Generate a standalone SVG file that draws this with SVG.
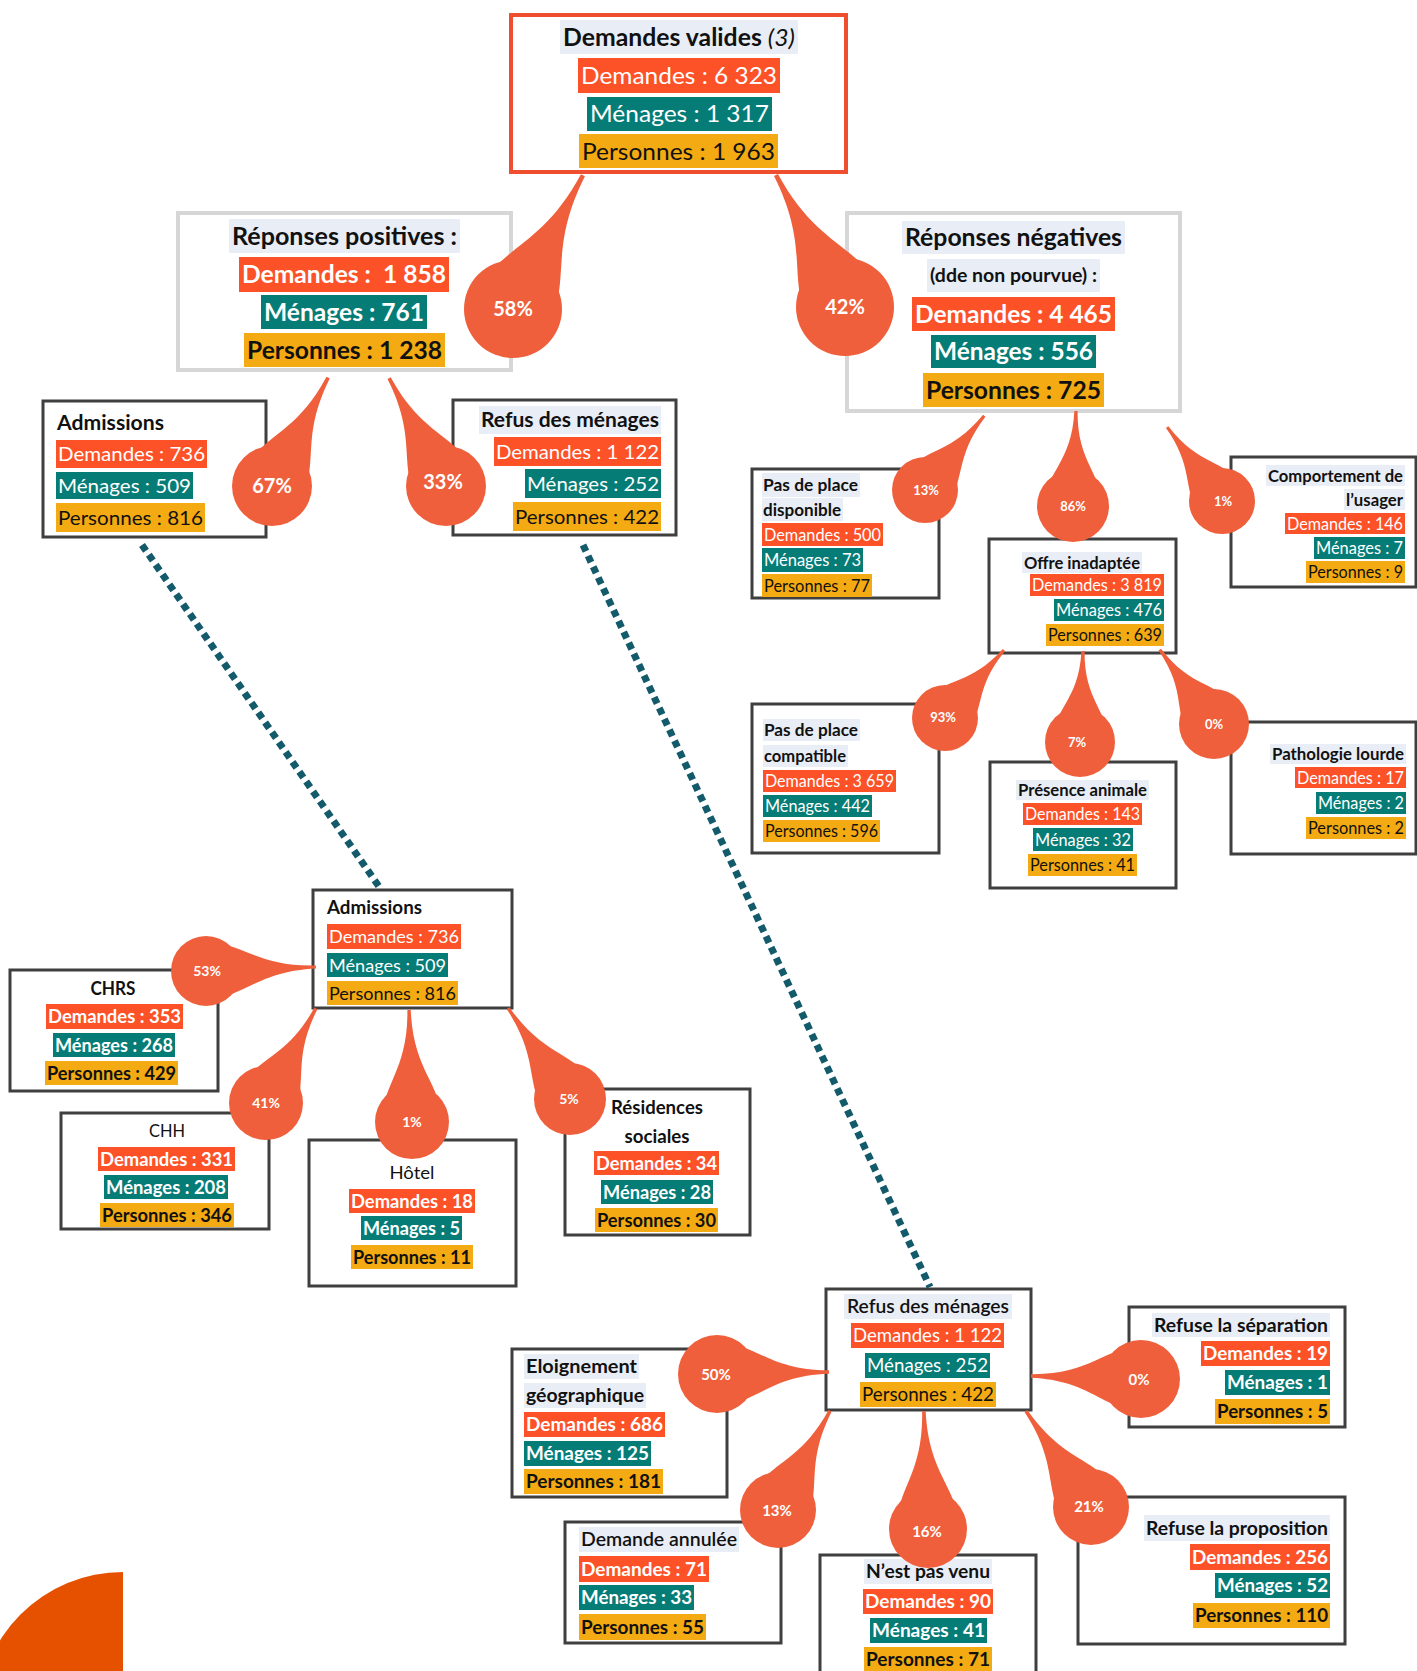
<svg xmlns="http://www.w3.org/2000/svg" xmlns:xlink="http://www.w3.org/1999/xlink" width="1417" height="1671" viewBox="0 0 1417 1671">
<style>
text{font-family:Lato,"Liberation Sans",sans-serif}
.box{fill:#fff;stroke:#3f3f3f;stroke-width:3}
.gbox{fill:#fff;stroke:#d6d6d6;stroke-width:4}
.rbox{fill:#fff;stroke:#f04f2f;stroke-width:4}
.tbg{fill:#e9edf5}
.rd{fill:#fd5128}
.tl{fill:#067c77}
.or{fill:#f4aa12}
.w{fill:#fff}
.k{fill:#111}
.b{font-weight:700}
.m{text-anchor:middle}
.e{text-anchor:end}
.drop{fill:#ef5f3b}
.pct{fill:#fff;font-weight:700;text-anchor:middle}
.dot{fill:none;stroke:#135a6b;stroke-width:7;stroke-dasharray:7 5}
.f24{font-size:24px}.f20{font-size:20px}.f17{font-size:17px}.f18{font-size:18px}.f19{font-size:19px}
</style>
<defs>
<path id="tail" d="M0,-0.8 C0.35,-0.8 0.45,-0.07 1,-0.045 L1,0.045 C0.45,0.07 0.35,0.8 0,0.8 Z"/>
</defs>

<g id="deco"><path d="M123,1572 A145,145 0 0 0 -22,1717 L123,1717 Z" fill="#e65100"/></g>

<g id="n-valides">
<rect class="rbox" x="511" y="15" width="335" height="157"/>
<rect class="tbg" x="560" y="20" width="238" height="34"/>
<text class="k f24" x="679" y="46" text-anchor="middle" textLength="232" lengthAdjust="spacingAndGlyphs"><tspan font-weight="700">Demandes valides </tspan><tspan font-style="italic">(3)</tspan></text>
<rect class="rd" x="578" y="58" width="202" height="35"/>
<text class="w f24 m" x="679" y="84" textLength="196" lengthAdjust="spacingAndGlyphs">Demandes : 6 323</text>
<rect class="tl" x="587" y="97" width="185" height="34"/>
<text class="w f24 m" x="679.5" y="122" textLength="179" lengthAdjust="spacingAndGlyphs">Ménages : 1 317</text>
<rect class="or" x="579" y="134" width="199" height="34"/>
<text class="k f24 m" x="678.5" y="159.5" textLength="193" lengthAdjust="spacingAndGlyphs">Personnes : 1 963</text>
</g>

<g id="n-positives">
<rect class="gbox" x="178" y="213" width="333" height="157"/>
<rect class="tbg" x="229" y="219" width="231" height="34"/>
<text class="k f24 m b" x="344.5" y="244.5" textLength="225" lengthAdjust="spacingAndGlyphs">Réponses positives :</text>
<rect class="rd" x="239" y="257" width="210" height="35"/>
<text class="w f24 m b" x="344" y="283" textLength="204" lengthAdjust="spacingAndGlyphs" xml:space="preserve">Demandes :  1 858</text>
<rect class="tl" x="261" y="295" width="166" height="34"/>
<text class="w f24 m b" x="344" y="320.5" textLength="160" lengthAdjust="spacingAndGlyphs">Ménages : 761</text>
<rect class="or" x="244" y="333" width="201" height="34"/>
<text class="k f24 m b" x="344.5" y="358.5" textLength="195" lengthAdjust="spacingAndGlyphs">Personnes : 1 238</text>
</g>

<g id="n-negatives">
<rect class="gbox" x="847" y="213" width="333" height="198"/>
<rect class="tbg" x="902" y="221" width="223" height="33"/>
<text class="k f24 m b" x="1013.5" y="246" textLength="217" lengthAdjust="spacingAndGlyphs">Réponses négatives</text>
<rect class="tbg" x="927" y="259" width="173" height="33"/>
<text class="k m b" font-size="18" x="1013.5" y="282" textLength="167" lengthAdjust="spacingAndGlyphs">(dde non pourvue) :</text>
<rect class="rd" x="912" y="297" width="203" height="34"/>
<text class="w f24 m b" x="1013.5" y="322.5" textLength="197" lengthAdjust="spacingAndGlyphs">Demandes : 4 465</text>
<rect class="tl" x="931" y="335" width="165" height="33"/>
<text class="w f24 m b" x="1013.5" y="360" textLength="159" lengthAdjust="spacingAndGlyphs">Ménages : 556</text>
<rect class="or" x="923" y="373" width="181" height="34"/>
<text class="k f24 m b" x="1013.5" y="398.5" textLength="175" lengthAdjust="spacingAndGlyphs">Personnes : 725</text>
</g>

<g id="n-admissions">
<rect class="box" x="43" y="401" width="223" height="136"/>
<text class="k f20 b" x="57" y="430" textLength="107" lengthAdjust="spacingAndGlyphs">Admissions</text>
<rect class="rd" x="56" y="440" width="151" height="28"/>
<text class="w f20" x="58" y="461" textLength="147" lengthAdjust="spacingAndGlyphs">Demandes : 736</text>
<rect class="tl" x="56" y="472" width="137" height="27"/>
<text class="w f20" x="58" y="492.5" textLength="133" lengthAdjust="spacingAndGlyphs">Ménages : 509</text>
<rect class="or" x="56" y="503" width="149" height="29"/>
<text class="k f20" x="58" y="524.5" textLength="145" lengthAdjust="spacingAndGlyphs">Personnes : 816</text>
</g>

<g id="n-refus">
<rect class="box" x="453" y="400" width="223" height="135"/>
<rect class="tbg" x="479" y="406" width="182" height="28"/>
<text class="k f20 b e" x="659" y="427" textLength="178" lengthAdjust="spacingAndGlyphs">Refus des ménages</text>
<rect class="rd" x="494" y="437" width="167" height="29"/>
<text class="w f20 e" x="659" y="458.5" textLength="163" lengthAdjust="spacingAndGlyphs">Demandes : 1 122</text>
<rect class="tl" x="525" y="469" width="136" height="29"/>
<text class="w f20 e" x="659" y="490.5" textLength="132" lengthAdjust="spacingAndGlyphs">Ménages : 252</text>
<rect class="or" x="513" y="502" width="148" height="29"/>
<text class="k f20 e" x="659" y="523.5" textLength="144" lengthAdjust="spacingAndGlyphs">Personnes : 422</text>
</g>

<g id="n-pasdispo">
<rect class="box" x="752" y="469" width="187" height="129"/>
<rect class="tbg" x="762" y="473" width="98" height="24"/>
<text class="k f17 b" x="763" y="491" textLength="95" lengthAdjust="spacingAndGlyphs">Pas de place</text>
<rect class="tbg" x="762" y="498" width="81" height="23"/>
<text class="k f17 b" x="763" y="515.5" textLength="78" lengthAdjust="spacingAndGlyphs">disponible</text>
<rect class="rd" x="762" y="523" width="121" height="23"/>
<text class="w f17" x="764" y="540.5" textLength="117" lengthAdjust="spacingAndGlyphs">Demandes : 500</text>
<rect class="tl" x="762" y="548" width="101" height="24"/>
<text class="w f17" x="764" y="566" textLength="97" lengthAdjust="spacingAndGlyphs">Ménages : 73</text>
<rect class="or" x="762" y="574" width="110" height="23"/>
<text class="k f17" x="764" y="591.5" textLength="106" lengthAdjust="spacingAndGlyphs">Personnes : 77</text>
</g>

<g id="n-offre">
<rect class="box" x="989" y="539" width="187" height="114"/>
<rect class="tbg" x="1022" y="552" width="120" height="21"/>
<text class="k f17 b m" x="1082" y="568.5" textLength="116" lengthAdjust="spacingAndGlyphs">Offre inadaptée</text>
<rect class="rd" x="1030" y="574" width="134" height="22"/>
<text class="w f17 e" x="1162" y="591" textLength="130" lengthAdjust="spacingAndGlyphs">Demandes : 3 819</text>
<rect class="tl" x="1054" y="599" width="110" height="22"/>
<text class="w f17 e" x="1162" y="616" textLength="106" lengthAdjust="spacingAndGlyphs">Ménages : 476</text>
<rect class="or" x="1046" y="624" width="118" height="22"/>
<text class="k f17 e" x="1162" y="641" textLength="114" lengthAdjust="spacingAndGlyphs">Personnes : 639</text>
</g>

<g id="n-comportement">
<rect class="box" x="1231" y="457" width="185" height="130"/>
<rect class="tbg" x="1266" y="465" width="139" height="21"/>
<text class="k f17 b e" x="1403" y="481.5" textLength="135" lengthAdjust="spacingAndGlyphs">Comportement de</text>
<rect class="tbg" x="1344" y="489" width="61" height="21"/>
<text class="k f17 b e" x="1403" y="505.5" textLength="57" lengthAdjust="spacingAndGlyphs">l’usager</text>
<rect class="rd" x="1285" y="513" width="120" height="21"/>
<text class="w f17 e" x="1403" y="529.5" textLength="116" lengthAdjust="spacingAndGlyphs">Demandes : 146</text>
<rect class="tl" x="1314" y="537" width="91" height="22"/>
<text class="w f17 e" x="1403" y="554" textLength="87" lengthAdjust="spacingAndGlyphs">Ménages : 7</text>
<rect class="or" x="1306" y="561" width="99" height="22"/>
<text class="k f17 e" x="1403" y="578" textLength="95" lengthAdjust="spacingAndGlyphs">Personnes : 9</text>
</g>

<g id="n-pascompat">
<rect class="box" x="752" y="704" width="187" height="149"/>
<rect class="tbg" x="763" y="719" width="97" height="22"/>
<text class="k f17 b" x="764" y="736" textLength="94" lengthAdjust="spacingAndGlyphs">Pas de place</text>
<rect class="tbg" x="763" y="745" width="85" height="22"/>
<text class="k f17 b" x="764" y="762" textLength="82" lengthAdjust="spacingAndGlyphs">compatible</text>
<rect class="rd" x="763" y="770" width="133" height="22"/>
<text class="w f17" x="765" y="787" textLength="129" lengthAdjust="spacingAndGlyphs">Demandes : 3 659</text>
<rect class="tl" x="763" y="795" width="109" height="22"/>
<text class="w f17" x="765" y="812" textLength="105" lengthAdjust="spacingAndGlyphs">Ménages : 442</text>
<rect class="or" x="763" y="820" width="117" height="22"/>
<text class="k f17" x="765" y="837" textLength="113" lengthAdjust="spacingAndGlyphs">Personnes : 596</text>
</g>

<g id="n-animale">
<rect class="box" x="990" y="762" width="186" height="126"/>
<rect class="tbg" x="1016" y="780" width="133" height="20"/>
<text class="k f17 b m" x="1082.5" y="796" textLength="129" lengthAdjust="spacingAndGlyphs">Présence animale</text>
<rect class="rd" x="1023" y="803" width="119" height="22"/>
<text class="w f17 m" x="1082.5" y="820" textLength="115" lengthAdjust="spacingAndGlyphs">Demandes : 143</text>
<rect class="tl" x="1033" y="828" width="100" height="23"/>
<text class="w f17 m" x="1083" y="845.5" textLength="96" lengthAdjust="spacingAndGlyphs">Ménages : 32</text>
<rect class="or" x="1028" y="854" width="109" height="22"/>
<text class="k f17 m" x="1082.5" y="871" textLength="105" lengthAdjust="spacingAndGlyphs">Personnes : 41</text>
</g>

<g id="n-pathologie">
<rect class="box" x="1231" y="722" width="185" height="132"/>
<rect class="tbg" x="1270" y="744" width="136" height="20"/>
<text class="k f17 b e" x="1404" y="760" textLength="132" lengthAdjust="spacingAndGlyphs">Pathologie lourde</text>
<rect class="rd" x="1295" y="767" width="111" height="21"/>
<text class="w f17 e" x="1404" y="783.5" textLength="107" lengthAdjust="spacingAndGlyphs">Demandes : 17</text>
<rect class="tl" x="1316" y="792" width="90" height="22"/>
<text class="w f17 e" x="1404" y="809" textLength="86" lengthAdjust="spacingAndGlyphs">Ménages : 2</text>
<rect class="or" x="1306" y="817" width="100" height="22"/>
<text class="k f17 e" x="1404" y="834" textLength="96" lengthAdjust="spacingAndGlyphs">Personnes : 2</text>
</g>

<g id="n-admissions2">
<rect class="box" x="313" y="890" width="199" height="118"/>
<text class="k f18 b" x="327" y="914" textLength="95" lengthAdjust="spacingAndGlyphs">Admissions</text>
<rect class="rd" x="327" y="924" width="134" height="25"/>
<text class="w f18" x="329" y="942.5" textLength="130" lengthAdjust="spacingAndGlyphs">Demandes : 736</text>
<rect class="tl" x="327" y="953" width="121" height="24"/>
<text class="w f18" x="329" y="971.5" textLength="117" lengthAdjust="spacingAndGlyphs">Ménages : 509</text>
<rect class="or" x="327" y="981" width="131" height="24"/>
<text class="k f18" x="329" y="999.5" textLength="127" lengthAdjust="spacingAndGlyphs">Personnes : 816</text>
</g>

<g id="n-chrs">
<rect class="box" x="10" y="970" width="208" height="121"/>
<text class="k f18 b m" x="113" y="995" textLength="45" lengthAdjust="spacingAndGlyphs">CHRS</text>
<rect class="rd" x="46" y="1004" width="137" height="25"/>
<text class="w f18 b m" x="114.5" y="1023" textLength="133" lengthAdjust="spacingAndGlyphs">Demandes : 353</text>
<rect class="tl" x="53" y="1033" width="122" height="24"/>
<text class="w f18 b m" x="114" y="1051.5" textLength="118" lengthAdjust="spacingAndGlyphs">Ménages : 268</text>
<rect class="or" x="45" y="1061" width="133" height="24"/>
<text class="k f18 b m" x="111.5" y="1079.5" textLength="129" lengthAdjust="spacingAndGlyphs">Personnes : 429</text>
</g>

<g id="n-chh">
<rect class="box" x="61" y="1113" width="208" height="116"/>
<text class="k f18 m" x="167" y="1136.5" textLength="36" lengthAdjust="spacingAndGlyphs">CHH</text>
<rect class="rd" x="98" y="1147" width="137" height="24"/>
<text class="w f18 b m" x="166.5" y="1165.5" textLength="133" lengthAdjust="spacingAndGlyphs">Demandes : 331</text>
<rect class="tl" x="104" y="1175" width="124" height="24"/>
<text class="w f18 b m" x="166" y="1193.5" textLength="120" lengthAdjust="spacingAndGlyphs">Ménages : 208</text>
<rect class="or" x="100" y="1203" width="134" height="24"/>
<text class="k f18 b m" x="167" y="1221.5" textLength="130" lengthAdjust="spacingAndGlyphs">Personnes : 346</text>
</g>

<g id="n-hotel">
<rect class="box" x="309" y="1140" width="207" height="146"/>
<text class="k f18 m" x="412" y="1178.5" textLength="45" lengthAdjust="spacingAndGlyphs">Hôtel</text>
<rect class="rd" x="349" y="1189" width="126" height="24"/>
<text class="w f18 b m" x="412" y="1207.5" textLength="122" lengthAdjust="spacingAndGlyphs">Demandes : 18</text>
<rect class="tl" x="361" y="1216" width="101" height="24"/>
<text class="w f18 b m" x="411.5" y="1234.5" textLength="97" lengthAdjust="spacingAndGlyphs">Ménages : 5</text>
<rect class="or" x="351" y="1245" width="122" height="24"/>
<text class="k f18 b m" x="412" y="1263.5" textLength="118" lengthAdjust="spacingAndGlyphs">Personnes : 11</text>
</g>

<g id="n-residences">
<rect class="box" x="565" y="1089" width="185" height="146"/>
<text class="k f18 b m" x="657" y="1113.5" textLength="92" lengthAdjust="spacingAndGlyphs">Résidences</text>
<text class="k f18 b m" x="657" y="1142.5" textLength="65" lengthAdjust="spacingAndGlyphs">sociales</text>
<rect class="rd" x="594" y="1151" width="125" height="24"/>
<text class="w f18 b m" x="656.5" y="1169.5" textLength="121" lengthAdjust="spacingAndGlyphs">Demandes : 34</text>
<rect class="tl" x="601" y="1180" width="112" height="24"/>
<text class="w f18 b m" x="657" y="1198.5" textLength="108" lengthAdjust="spacingAndGlyphs">Ménages : 28</text>
<rect class="or" x="595" y="1208" width="123" height="24"/>
<text class="k f18 b m" x="656.5" y="1226.5" textLength="119" lengthAdjust="spacingAndGlyphs">Personnes : 30</text>
</g>

<g id="n-refus2">
<rect class="box" x="826" y="1289" width="205" height="121"/>
<rect class="tbg" x="844" y="1294" width="168" height="25"/>
<text class="k f19 m" font-weight="600" x="928" y="1313" textLength="162" lengthAdjust="spacingAndGlyphs">Refus des ménages</text>
<rect class="rd" x="851" y="1323" width="153" height="25"/>
<text class="w f19 m" x="927.5" y="1342" textLength="149" lengthAdjust="spacingAndGlyphs">Demandes : 1 122</text>
<rect class="tl" x="865" y="1353" width="125" height="25"/>
<text class="w f19 m" x="927.5" y="1372" textLength="121" lengthAdjust="spacingAndGlyphs">Ménages : 252</text>
<rect class="or" x="860" y="1382" width="136" height="25"/>
<text class="k f19 m" x="928" y="1401" textLength="132" lengthAdjust="spacingAndGlyphs">Personnes : 422</text>
</g>

<g id="n-eloignement">
<rect class="box" x="512" y="1349" width="215" height="148"/>
<rect class="tbg" x="524" y="1354" width="115" height="25"/>
<text class="k f19 b" x="526" y="1373" textLength="111" lengthAdjust="spacingAndGlyphs">Eloignement</text>
<rect class="tbg" x="524" y="1383" width="122" height="25"/>
<text class="k f19 b" x="526" y="1402" textLength="118" lengthAdjust="spacingAndGlyphs">géographique</text>
<rect class="rd" x="524" y="1412" width="141" height="25"/>
<text class="w f19 b" x="526" y="1431" textLength="137" lengthAdjust="spacingAndGlyphs">Demandes : 686</text>
<rect class="tl" x="524" y="1441" width="127" height="25"/>
<text class="w f19 b" x="526" y="1460" textLength="123" lengthAdjust="spacingAndGlyphs">Ménages : 125</text>
<rect class="or" x="524" y="1469" width="139" height="25"/>
<text class="k f19 b" x="526" y="1488" textLength="135" lengthAdjust="spacingAndGlyphs">Personnes : 181</text>
</g>

<g id="n-separation">
<rect class="box" x="1129" y="1307" width="216" height="120"/>
<rect class="tbg" x="1152" y="1313" width="178" height="24"/>
<text class="k f19 b e" x="1328" y="1331.5" textLength="174" lengthAdjust="spacingAndGlyphs">Refuse la séparation</text>
<rect class="rd" x="1201" y="1341" width="129" height="25"/>
<text class="w f19 b e" x="1328" y="1360" textLength="125" lengthAdjust="spacingAndGlyphs">Demandes : 19</text>
<rect class="tl" x="1225" y="1370" width="105" height="25"/>
<text class="w f19 b e" x="1328" y="1389" textLength="101" lengthAdjust="spacingAndGlyphs">Ménages : 1</text>
<rect class="or" x="1215" y="1399" width="115" height="25"/>
<text class="k f19 b e" x="1328" y="1418" textLength="111" lengthAdjust="spacingAndGlyphs">Personnes : 5</text>
</g>

<g id="n-annulee">
<rect class="box" x="565" y="1522" width="216" height="121"/>
<rect class="tbg" x="579" y="1527" width="160" height="25"/>
<text class="k f19" font-weight="600" x="581" y="1546" textLength="156" lengthAdjust="spacingAndGlyphs">Demande annulée</text>
<rect class="rd" x="579" y="1556" width="130" height="26"/>
<text class="w f19 b" x="581" y="1575.5" textLength="126" lengthAdjust="spacingAndGlyphs">Demandes : 71</text>
<rect class="tl" x="579" y="1585" width="115" height="25"/>
<text class="w f19 b" x="581" y="1604" textLength="111" lengthAdjust="spacingAndGlyphs">Ménages : 33</text>
<rect class="or" x="579" y="1614" width="127" height="26"/>
<text class="k f19 b" x="581" y="1633.5" textLength="123" lengthAdjust="spacingAndGlyphs">Personnes : 55</text>
</g>

<g id="n-venu">
<rect class="box" x="820" y="1555" width="216" height="130"/>
<rect class="tbg" x="864" y="1559" width="128" height="25"/>
<text class="k f19 b m" x="928" y="1578" textLength="124" lengthAdjust="spacingAndGlyphs">N’est pas venu</text>
<rect class="rd" x="863" y="1589" width="130" height="25"/>
<text class="w f19 b m" x="928" y="1608" textLength="126" lengthAdjust="spacingAndGlyphs">Demandes : 90</text>
<rect class="tl" x="870" y="1618" width="117" height="25"/>
<text class="w f19 b m" x="928.5" y="1637" textLength="113" lengthAdjust="spacingAndGlyphs">Ménages : 41</text>
<rect class="or" x="864" y="1647" width="128" height="26"/>
<text class="k f19 b m" x="928" y="1666" textLength="124" lengthAdjust="spacingAndGlyphs">Personnes : 71</text>
</g>

<g id="n-proposition">
<rect class="box" x="1078" y="1497" width="267" height="147"/>
<rect class="tbg" x="1144" y="1515" width="186" height="26"/>
<text class="k f19 b e" x="1328" y="1534.5" textLength="182" lengthAdjust="spacingAndGlyphs">Refuse la proposition</text>
<rect class="rd" x="1190" y="1544" width="140" height="26"/>
<text class="w f19 b e" x="1328" y="1563.5" textLength="136" lengthAdjust="spacingAndGlyphs">Demandes : 256</text>
<rect class="tl" x="1215" y="1573" width="115" height="25"/>
<text class="w f19 b e" x="1328" y="1592" textLength="111" lengthAdjust="spacingAndGlyphs">Ménages : 52</text>
<rect class="or" x="1193" y="1603" width="137" height="25"/>
<text class="k f19 b e" x="1328" y="1622" textLength="133" lengthAdjust="spacingAndGlyphs">Personnes : 110</text>
</g>

<g id="connectors">
<line class="dot" x1="142" y1="545" x2="380" y2="888"/>
<line class="dot" x1="583" y1="545" x2="930" y2="1287"/>

<g class="drop"><use href="#tail" transform="translate(513 309) rotate(-62.4) scale(151 49)"/><circle cx="513" cy="309" r="49"/></g>
<text class="pct" font-size="20" x="513" y="316">58%</text>
<g class="drop"><use href="#tail" transform="translate(845 307) rotate(-117.6) scale(149 49)"/><circle cx="845" cy="307" r="49"/></g>
<text class="pct" font-size="20" x="845" y="314">42%</text>
<g class="drop"><use href="#tail" transform="translate(272 486) rotate(-62.6) scale(122 40)"/><circle cx="272" cy="486" r="40"/></g>
<text class="pct" font-size="20" x="272" y="493">67%</text>
<g class="drop"><use href="#tail" transform="translate(446 486) rotate(-117.8) scale(122 40)"/><circle cx="446" cy="486" r="40"/></g>
<text class="pct" font-size="20" x="443" y="489">33%</text>
<g class="drop"><use href="#tail" transform="translate(925 490) rotate(-51.4) scale(95 33)"/><circle cx="925" cy="490" r="33"/></g>
<text class="pct" font-size="13" x="926" y="495">13%</text>
<g class="drop"><use href="#tail" transform="translate(1073 506) rotate(-88.2) scale(95 36)"/><circle cx="1073" cy="506" r="36"/></g>
<text class="pct" font-size="13" x="1073" y="511">86%</text>
<g class="drop"><use href="#tail" transform="translate(1222 501) rotate(-126.6) scale(92 33)"/><circle cx="1222" cy="501" r="33"/></g>
<text class="pct" font-size="13" x="1223" y="506">1%</text>
<g class="drop"><use href="#tail" transform="translate(945 718) rotate(-49.1) scale(90 33)"/><circle cx="945" cy="718" r="33"/></g>
<text class="pct" font-size="13" x="943" y="722">93%</text>
<g class="drop"><use href="#tail" transform="translate(1080 742) rotate(-88.1) scale(91 35)"/><circle cx="1080" cy="742" r="35"/></g>
<text class="pct" font-size="13" x="1077" y="747">7%</text>
<g class="drop"><use href="#tail" transform="translate(1214 724) rotate(-126.1) scale(92 35)"/><circle cx="1214" cy="724" r="35"/></g>
<text class="pct" font-size="13" x="1214" y="729">0%</text>
<g class="drop"><use href="#tail" transform="translate(206 971) rotate(-2.1) scale(110 35)"/><circle cx="206" cy="971" r="35"/></g>
<text class="pct" font-size="14" x="207" y="976">53%</text>
<g class="drop"><use href="#tail" transform="translate(266 1103) rotate(-62.2) scale(107 37)"/><circle cx="266" cy="1103" r="37"/></g>
<text class="pct" font-size="14" x="266" y="1108">41%</text>
<g class="drop"><use href="#tail" transform="translate(412 1122) rotate(-91.5) scale(112 37)"/><circle cx="412" cy="1122" r="37"/></g>
<text class="pct" font-size="14" x="412" y="1127">1%</text>
<g class="drop"><use href="#tail" transform="translate(570 1099) rotate(-124.3) scale(110 36)"/><circle cx="570" cy="1099" r="36"/></g>
<text class="pct" font-size="14" x="569" y="1104">5%</text>
<g class="drop"><use href="#tail" transform="translate(717 1374) rotate(-1) scale(112 39)"/><circle cx="717" cy="1374" r="39"/></g>
<text class="pct" font-size="15" x="716" y="1380">50%</text>
<g class="drop"><use href="#tail" transform="translate(1141 1379) rotate(181.6) scale(110 39)"/><circle cx="1141" cy="1379" r="39"/></g>
<text class="pct" font-size="15" x="1139" y="1385">0%</text>
<g class="drop"><use href="#tail" transform="translate(778 1510) rotate(-62.3) scale(112 38)"/><circle cx="778" cy="1510" r="38"/></g>
<text class="pct" font-size="15" x="777" y="1516">13%</text>
<g class="drop"><use href="#tail" transform="translate(928 1529) rotate(-92) scale(118 39)"/><circle cx="928" cy="1529" r="39"/></g>
<text class="pct" font-size="15" x="927" y="1537">16%</text>
<g class="drop"><use href="#tail" transform="translate(1091 1507) rotate(-124.1) scale(116 38)"/><circle cx="1091" cy="1507" r="38"/></g>
<text class="pct" font-size="15" x="1089" y="1512">21%</text>
</g>
</svg>
